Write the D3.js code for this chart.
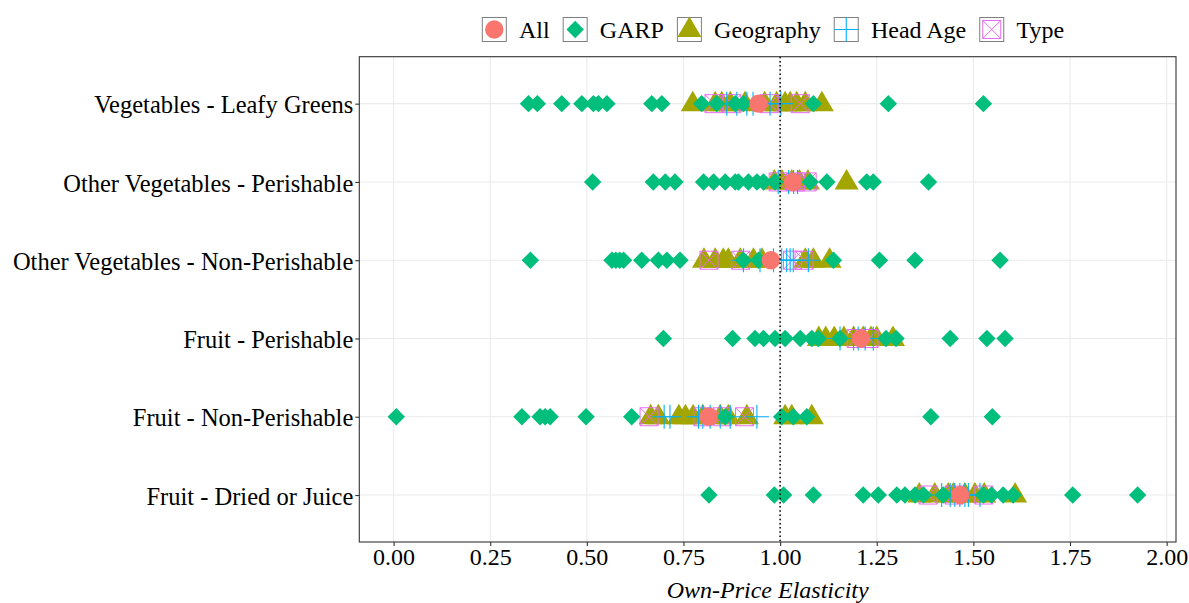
<!DOCTYPE html>
<html>
<head>
<meta charset="utf-8">
<script src="https://cdn.jsdelivr.net/npm/d3@7"></script>
<style>
  body { margin: 0; background: #fff; }
  svg { display: block; }
  text { font-family: "Liberation Serif", "Times New Roman", serif; }
</style>
</head>
<body>
<svg id="chart" width="1189" height="603"></svg>
<script>
// Food groups, top to bottom
const categories = [
  "Vegetables - Leafy Greens",
  "Other Vegetables - Perishable",
  "Other Vegetables - Non-Perishable",
  "Fruit - Perishable",
  "Fruit - Non-Perishable",
  "Fruit - Dried or Juice"
];

// Own-price elasticity estimates, one list per food group
const allEst = [0.944, 1.033, 0.976, 1.209, 0.815, 1.466];

const garpEst = [
  [0.349, 0.372, 0.435, 0.487, 0.517, 0.530, 0.552, 0.668, 0.694, 0.797, 0.836, 0.884, 0.905, 1.086, 1.280, 1.526],
  [0.515, 0.672, 0.703, 0.728, 0.802, 0.828, 0.858, 0.884, 0.892, 0.918, 0.940, 0.957, 0.987, 1.078, 1.121, 1.224, 1.241, 1.384],
  [0.354, 0.565, 0.575, 0.585, 0.595, 0.642, 0.685, 0.707, 0.741, 0.905, 0.944, 1.138, 1.257, 1.349, 1.569],
  [0.698, 0.877, 0.935, 0.957, 0.987, 1.013, 1.052, 1.082, 1.099, 1.155, 1.274, 1.300, 1.440, 1.535, 1.582],
  [0.007, 0.332, 0.379, 0.392, 0.405, 0.498, 0.616, 0.858, 1.004, 1.034, 1.069, 1.390, 1.549],
  [0.816, 0.985, 1.009, 1.086, 1.215, 1.254, 1.302, 1.323, 1.349, 1.371, 1.422, 1.526, 1.547, 1.577, 1.603, 1.757, 1.925]
];

const geographyEst = [
  [0.774, 0.832, 0.849, 0.871, 0.909, 0.960, 0.991, 1.013, 1.026, 1.043, 1.065, 1.108],
  [0.985, 1.005, 1.030, 1.050, 1.072, 1.172],
  [0.803, 0.832, 0.853, 0.866, 0.897, 0.931, 0.953, 1.065, 1.086, 1.128],
  [1.100, 1.118, 1.140, 1.165, 1.190, 1.215, 1.235, 1.250, 1.292],
  [0.665, 0.685, 0.738, 0.755, 0.775, 0.800, 0.845, 0.866, 0.914, 1.013, 1.030, 1.082],
  [1.360, 1.400, 1.435, 1.448, 1.478, 1.504, 1.528, 1.608]
];

const headAgeEst = [
  [0.862, 0.888, 0.914, 0.930, 0.974, 1.002],
  [0.995, 1.022, 1.035, 1.045],
  [0.905, 0.948, 0.983, 1.004, 1.017, 1.026, 1.034, 1.073],
  [1.155, 1.190, 1.202, 1.220, 1.241],
  [0.700, 0.715, 0.789, 0.800, 0.819, 0.845, 0.871, 0.940],
  [1.418, 1.440, 1.452, 1.465, 1.478, 1.487, 1.517]
];

const typeEst = [
  [0.829, 0.875, 0.972, 1.052],
  [0.995, 1.040, 1.070],
  [0.816, 0.898, 1.032, 1.062],
  [1.197, 1.230],
  [0.661, 0.800, 0.850, 0.908],
  [1.383, 1.450, 1.527]
];

const seriesNames = ["All", "GARP", "Geography", "Head Age", "Type"];
const seriesColors = ["#F8766D", "#00BF7D", "#A3A500", "#00B0F6", "#E76BF3"];
const xTicks = [0, 0.25, 0.5, 0.75, 1, 1.25, 1.5, 1.75, 2];
const referenceValue = 1;

// ---- layout ----
const svg = d3.select("#chart");
const panel = { left: 359.3, top: 56.7, right: 1176, bottom: 542 };
const fontFamily = '"Liberation Serif", "Times New Roman", serif';

const x = d3.scaleLinear().domain([-0.0887, 2.0242]).range([panel.left, panel.right]);
const y = d3.scalePoint().domain(categories).range([panel.top, panel.bottom]).padding(0.6);
const color = d3.scaleOrdinal().domain(seriesNames).range(seriesColors);

// ---- marker shapes ----
const shapes = {
  "All": (g, cx, cy) => g.append("circle").attr("cx", cx).attr("cy", cy).attr("r", 9.2)
      .attr("fill", color("All")),
  "GARP": (g, cx, cy) => g.append("path")
      .attr("d", `M${cx},${cy - 8.7}L${cx + 8.7},${cy}L${cx},${cy + 8.7}L${cx - 8.7},${cy}Z`)
      .attr("fill", color("GARP")),
  "Geography": (g, cx, cy) => g.append("path")
      .attr("d", `M${cx},${cy - 13}L${cx + 12},${cy + 7.5}L${cx - 12},${cy + 7.5}Z`)
      .attr("fill", color("Geography")),
  "Head Age": (g, cx, cy) => g.append("path")
      .attr("d", `M${cx - 12},${cy}H${cx + 12}M${cx},${cy - 12}V${cy + 12}`)
      .attr("fill", "none").attr("stroke", color("Head Age")).attr("stroke-width", 1.1),
  "Type": (g, cx, cy) => g.append("path")
      .attr("d", `M${cx - 9},${cy - 9}H${cx + 9}V${cy + 9}H${cx - 9}Z` +
                 `M${cx - 9},${cy - 9}L${cx + 9},${cy + 9}M${cx + 9},${cy - 9}L${cx - 9},${cy + 9}`)
      .attr("fill", "none").attr("stroke", color("Type")).attr("stroke-width", 1)
};

// ---- gridlines ----
const grid = svg.append("g").attr("class", "grid");
grid.selectAll("line.vx").data(xTicks).join("line")
  .attr("x1", d => x(d)).attr("x2", d => x(d))
  .attr("y1", panel.top).attr("y2", panel.bottom)
  .attr("stroke", "#EBEBEB").attr("stroke-width", 1.1);
grid.selectAll("line.hy").data(categories).join("line")
  .attr("x1", panel.left).attr("x2", panel.right)
  .attr("y1", d => y(d)).attr("y2", d => y(d))
  .attr("stroke", "#EBEBEB").attr("stroke-width", 1.1);

// ---- points, layered: Geography, Type, Head Age, GARP, All ----
const layers = [
  ["Geography", geographyEst],
  ["Type", typeEst],
  ["Head Age", headAgeEst],
  ["GARP", garpEst],
  ["All", allEst.map(v => [v])]
];
const pts = svg.append("g").attr("class", "points");
layers.forEach(([name, rows]) => {
  const g = pts.append("g").attr("class", name);
  rows.forEach((vals, i) => {
    vals.forEach(v => shapes[name](g, x(v), y(categories[i])));
  });
});

// ---- reference line at unit elasticity ----
svg.append("line")
  .attr("x1", x(referenceValue)).attr("x2", x(referenceValue))
  .attr("y1", panel.top).attr("y2", panel.bottom)
  .attr("stroke", "#000").attr("stroke-width", 1.5)
  .attr("stroke-dasharray", "1.5,2.7");

// ---- panel border ----
svg.append("rect")
  .attr("x", panel.left).attr("y", panel.top)
  .attr("width", panel.right - panel.left).attr("height", panel.bottom - panel.top)
  .attr("fill", "none").attr("stroke", "#333333").attr("stroke-width", 1.1);

// ---- axes ----
const xAxis = svg.append("g")
  .attr("transform", `translate(0,${panel.bottom})`)
  .call(d3.axisBottom(x).tickValues(xTicks).tickFormat(d3.format(".2f")).tickSize(4).tickPadding(2));
const yAxis = svg.append("g")
  .attr("transform", `translate(${panel.left},0)`)
  .call(d3.axisLeft(y).tickSize(4).tickPadding(2));
[xAxis, yAxis].forEach(a => {
  a.select(".domain").remove();
  a.selectAll(".tick line").attr("stroke", "#333333").attr("stroke-width", 1.1);
  a.selectAll(".tick text").attr("fill", "#000").attr("font-size", 24).attr("font-family", fontFamily);
});
yAxis.selectAll(".tick text").attr("font-size", 24.5).attr("dy", "0.37em");

svg.append("text")
  .attr("x", (panel.left + panel.right) / 2).attr("y", 598)
  .attr("text-anchor", "middle").attr("font-size", 24).attr("font-style", "italic")
  .attr("fill", "#000").text("Own-Price Elasticity");

// ---- legend ----
const legend = svg.append("g").attr("class", "legend");
const keyW = 24, keyH = 24, keyTop = 17.5, textGap = 12.7, itemGap = 13.5;
let lx = 482.3;
seriesNames.forEach(name => {
  const item = legend.append("g");
  item.append("rect").attr("x", lx).attr("y", keyTop).attr("width", keyW).attr("height", keyH)
    .attr("fill", "#fff").attr("stroke", "#7F7F7F").attr("stroke-width", 1);
  shapes[name](item, lx + keyW / 2, keyTop + keyH / 2);
  const t = item.append("text").attr("x", lx + keyW + textGap).attr("y", 38)
    .attr("font-size", 24).attr("fill", "#000").text(name);
  lx += keyW + textGap + t.node().getComputedTextLength() + itemGap;
});
</script>
</body>
</html>
